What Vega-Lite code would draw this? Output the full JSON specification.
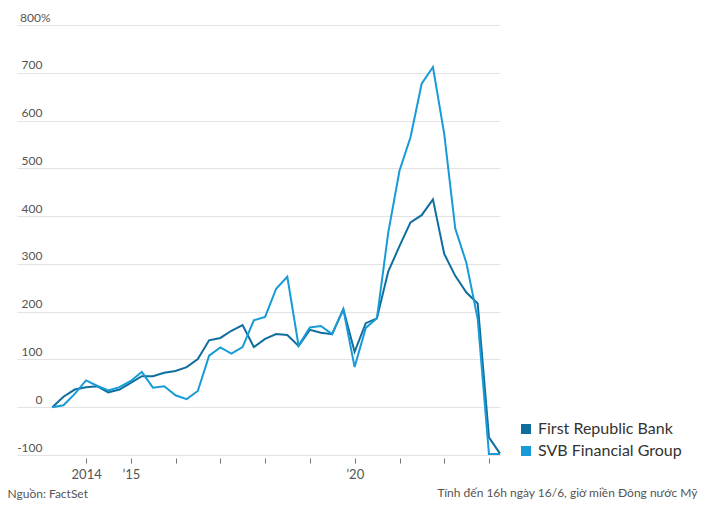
{
  "$schema": "https://vega.github.io/schema/vega-lite/v6.json",
  "description": "First Republic Bank vs SVB Financial Group, cumulative share price change",
  "autosize": {"type": "none"},
  "width": 483,
  "height": 430,
  "padding": {"left": 17, "top": 25, "right": 209, "bottom": 54},
  "background": "white",
  "config": {
    "view": {"stroke": null},
    "font": "Lato"
  },
  "datasets": {
    "prices": [
      {"date": "2013-03-31", "bank": "First Republic Bank", "change": 0},
      {"date": "2013-06-30", "bank": "First Republic Bank", "change": 22},
      {"date": "2013-09-30", "bank": "First Republic Bank", "change": 37},
      {"date": "2013-12-31", "bank": "First Republic Bank", "change": 42},
      {"date": "2014-03-31", "bank": "First Republic Bank", "change": 44},
      {"date": "2014-06-30", "bank": "First Republic Bank", "change": 31},
      {"date": "2014-09-30", "bank": "First Republic Bank", "change": 37},
      {"date": "2014-12-31", "bank": "First Republic Bank", "change": 51},
      {"date": "2015-03-31", "bank": "First Republic Bank", "change": 65},
      {"date": "2015-06-30", "bank": "First Republic Bank", "change": 65},
      {"date": "2015-09-30", "bank": "First Republic Bank", "change": 72},
      {"date": "2015-12-31", "bank": "First Republic Bank", "change": 76},
      {"date": "2016-03-31", "bank": "First Republic Bank", "change": 84},
      {"date": "2016-06-30", "bank": "First Republic Bank", "change": 101},
      {"date": "2016-09-30", "bank": "First Republic Bank", "change": 140},
      {"date": "2016-12-31", "bank": "First Republic Bank", "change": 145},
      {"date": "2017-03-31", "bank": "First Republic Bank", "change": 160},
      {"date": "2017-06-30", "bank": "First Republic Bank", "change": 172},
      {"date": "2017-09-30", "bank": "First Republic Bank", "change": 126},
      {"date": "2017-12-31", "bank": "First Republic Bank", "change": 143},
      {"date": "2018-03-31", "bank": "First Republic Bank", "change": 153},
      {"date": "2018-06-30", "bank": "First Republic Bank", "change": 151},
      {"date": "2018-09-30", "bank": "First Republic Bank", "change": 128},
      {"date": "2018-12-31", "bank": "First Republic Bank", "change": 162},
      {"date": "2019-03-31", "bank": "First Republic Bank", "change": 156},
      {"date": "2019-06-30", "bank": "First Republic Bank", "change": 153},
      {"date": "2019-09-30", "bank": "First Republic Bank", "change": 205},
      {"date": "2019-12-31", "bank": "First Republic Bank", "change": 116},
      {"date": "2020-03-31", "bank": "First Republic Bank", "change": 176},
      {"date": "2020-06-30", "bank": "First Republic Bank", "change": 186},
      {"date": "2020-09-30", "bank": "First Republic Bank", "change": 284},
      {"date": "2020-12-31", "bank": "First Republic Bank", "change": 337},
      {"date": "2021-03-31", "bank": "First Republic Bank", "change": 387},
      {"date": "2021-06-30", "bank": "First Republic Bank", "change": 402},
      {"date": "2021-09-30", "bank": "First Republic Bank", "change": 435},
      {"date": "2021-12-31", "bank": "First Republic Bank", "change": 321},
      {"date": "2022-03-31", "bank": "First Republic Bank", "change": 275},
      {"date": "2022-06-30", "bank": "First Republic Bank", "change": 240},
      {"date": "2022-09-30", "bank": "First Republic Bank", "change": 217},
      {"date": "2022-12-31", "bank": "First Republic Bank", "change": -63},
      {"date": "2023-03-31", "bank": "First Republic Bank", "change": -97},
      {"date": "2013-03-31", "bank": "SVB Financial Group", "change": 0},
      {"date": "2013-06-30", "bank": "SVB Financial Group", "change": 4},
      {"date": "2013-09-30", "bank": "SVB Financial Group", "change": 28},
      {"date": "2013-12-31", "bank": "SVB Financial Group", "change": 56},
      {"date": "2014-03-31", "bank": "SVB Financial Group", "change": 45},
      {"date": "2014-06-30", "bank": "SVB Financial Group", "change": 35},
      {"date": "2014-09-30", "bank": "SVB Financial Group", "change": 42},
      {"date": "2014-12-31", "bank": "SVB Financial Group", "change": 55},
      {"date": "2015-03-31", "bank": "SVB Financial Group", "change": 74},
      {"date": "2015-06-30", "bank": "SVB Financial Group", "change": 41},
      {"date": "2015-09-30", "bank": "SVB Financial Group", "change": 44},
      {"date": "2015-12-31", "bank": "SVB Financial Group", "change": 25},
      {"date": "2016-03-31", "bank": "SVB Financial Group", "change": 17},
      {"date": "2016-06-30", "bank": "SVB Financial Group", "change": 34},
      {"date": "2016-09-30", "bank": "SVB Financial Group", "change": 108},
      {"date": "2016-12-31", "bank": "SVB Financial Group", "change": 125},
      {"date": "2017-03-31", "bank": "SVB Financial Group", "change": 112},
      {"date": "2017-06-30", "bank": "SVB Financial Group", "change": 126},
      {"date": "2017-09-30", "bank": "SVB Financial Group", "change": 182},
      {"date": "2017-12-31", "bank": "SVB Financial Group", "change": 189},
      {"date": "2018-03-31", "bank": "SVB Financial Group", "change": 248},
      {"date": "2018-06-30", "bank": "SVB Financial Group", "change": 273},
      {"date": "2018-09-30", "bank": "SVB Financial Group", "change": 129},
      {"date": "2018-12-31", "bank": "SVB Financial Group", "change": 167},
      {"date": "2019-03-31", "bank": "SVB Financial Group", "change": 170},
      {"date": "2019-06-30", "bank": "SVB Financial Group", "change": 153},
      {"date": "2019-09-30", "bank": "SVB Financial Group", "change": 205},
      {"date": "2019-12-31", "bank": "SVB Financial Group", "change": 84},
      {"date": "2020-03-31", "bank": "SVB Financial Group", "change": 166},
      {"date": "2020-06-30", "bank": "SVB Financial Group", "change": 186},
      {"date": "2020-09-30", "bank": "SVB Financial Group", "change": 365},
      {"date": "2020-12-31", "bank": "SVB Financial Group", "change": 495},
      {"date": "2021-03-31", "bank": "SVB Financial Group", "change": 565},
      {"date": "2021-06-30", "bank": "SVB Financial Group", "change": 677},
      {"date": "2021-09-30", "bank": "SVB Financial Group", "change": 712},
      {"date": "2021-12-31", "bank": "SVB Financial Group", "change": 572},
      {"date": "2022-03-31", "bank": "SVB Financial Group", "change": 374},
      {"date": "2022-06-30", "bank": "SVB Financial Group", "change": 302},
      {"date": "2022-09-30", "bank": "SVB Financial Group", "change": 185},
      {"date": "2022-12-31", "bank": "SVB Financial Group", "change": -98},
      {"date": "2023-03-31", "bank": "SVB Financial Group", "change": -98}
    ]
  },
  "data": {"name": "prices"},
  "encoding": {
    "x": {
      "field": "date",
      "type": "temporal",
      "scale": {"type": "utc", "domain": [{"year": 2012, "month": 6, "date": 16, "utc": true}, {"year": 2023, "month": 3, "date": 31, "utc": true}]},
      "axis": {
        "values": [
          {"year": 2014, "month": 1, "date": 1, "utc": true},
          {"year": 2015, "month": 1, "date": 1, "utc": true},
          {"year": 2016, "month": 1, "date": 1, "utc": true},
          {"year": 2017, "month": 1, "date": 1, "utc": true},
          {"year": 2018, "month": 1, "date": 1, "utc": true},
          {"year": 2019, "month": 1, "date": 1, "utc": true},
          {"year": 2020, "month": 1, "date": 1, "utc": true},
          {"year": 2021, "month": 1, "date": 1, "utc": true},
          {"year": 2022, "month": 1, "date": 1, "utc": true},
          {"year": 2023, "month": 1, "date": 1, "utc": true}
        ],
        "labelExpr": "utcyear(datum.value) == 2014 ? '2014' : utcyear(datum.value) == 2015 ? '\u201915' : utcyear(datum.value) == 2020 ? '\u201920' : ''",
        "domain": false,
        "grid": false,
        "offset": 3,
        "tickSize": 5,
        "tickColor": "#777777",
        "labelFont": "Lato",
        "labelFontSize": 13,
        "labelColor": "#555555",
        "labelPadding": 5,
        "labelFlush": false,
        "labelOverlap": false,
        "title": "T\u00ednh \u0111\u1ebfn 16h ng\u00e0y 16/6, gi\u1edd mi\u1ec1n \u0110\u00f4ng n\u01b0\u1edbc M\u1ef9",
        "titleFont": "Lato",
        "titleFontSize": 12,
        "titleFontWeight": "normal",
        "titleColor": "#555555",
        "titleAnchor": "end",
        "titleAlign": "right",
        "titleBaseline": "alphabetic",
        "titleX": 680,
        "titleY": 38
      }
    },
    "y": {
      "field": "change",
      "type": "quantitative",
      "scale": {"domain": [-100, 800], "nice": false, "zero": false},
      "axis": {
        "values": [-100, 0, 100, 200, 300, 400, 500, 600, 700, 800],
        "labelExpr": "datum.value == 800 ? '800%' : '' + datum.value",
        "domain": false,
        "ticks": false,
        "grid": true,
        "gridColor": "#e3e3e3",
        "gridWidth": 1,
        "labelAlign": "right",
        "labelBaseline": "alphabetic",
        "labelPadding": {"condition": {"test": "datum.value == 800", "value": -33}, "value": -25},
        "labelOffset": -4,
        "labelFont": "Lato",
        "labelFontSize": 12,
        "labelColor": "#555555",
        "title": "Ngu\u1ed3n: FactSet",
        "titleFont": "Lato",
        "titleFontSize": 12,
        "titleFontWeight": "normal",
        "titleColor": "#555555",
        "titleAngle": 0,
        "titleAlign": "left",
        "titleBaseline": "alphabetic",
        "titleX": -10,
        "titleY": 472
      }
    }
  },
  "layer": [
    {
      "mark": {"type": "rule", "color": "#666666", "strokeWidth": 1.5},
      "encoding": {"y": {"datum": 0}}
    },
    {
      "mark": {"type": "line", "strokeWidth": 2, "interpolate": "linear"},
      "encoding": {
        "color": {
          "field": "bank",
          "type": "nominal",
          "scale": {
            "domain": ["First Republic Bank", "SVB Financial Group"],
            "range": ["#0f6e9e", "#179bd7"]
          },
          "legend": {
            "title": null,
            "orient": "none",
            "legendX": 501,
            "legendY": 396,
            "padding": 0,
            "symbolType": "square",
            "symbolSize": 100,
            "symbolStrokeWidth": 0,
            "symbolOpacity": 1,
            "labelFont": "Lato",
            "labelFontSize": 16,
            "labelColor": "#333333",
            "labelOffset": 4,
            "rowPadding": 6,
            "labelLimit": 300,
            "encode": {
              "symbols": {
                "update": {
                  "fill": {"scale": "color", "field": "value"},
                  "fillOpacity": {"value": 1},
                  "strokeWidth": {"value": 0}
                }
              }
            }
          }
        }
      }
    }
  ]
}
